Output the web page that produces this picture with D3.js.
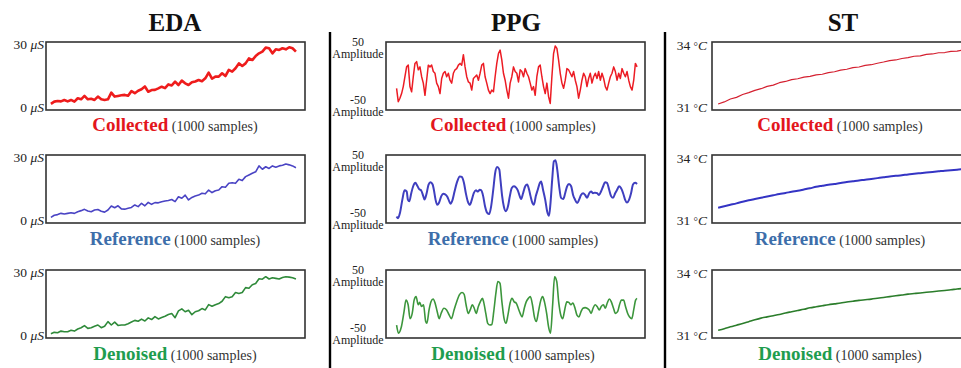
<!DOCTYPE html>
<html>
<head>
<meta charset="utf-8">
<script src="https://cdn.jsdelivr.net/npm/d3@7"></script>
<style>
  body { margin: 0; background: #fff; overflow: hidden; }
  svg { display: block; font-family: "Liberation Serif", "DejaVu Serif", serif; }
</style>
</head>
<body>
<div id="chart"></div>
<script>
// ---- data ----
const titles = ['EDA', 'PPG', 'ST'];
const rowNames = ['Collected', 'Reference', 'Denoised'];
const sampleNote = '(1000 samples)';

const edaTicks = [0, 30];
const ppgTicks = [-50, 50];
const stTicks = [31, 34];

// EDA, evenly spaced over 1000 samples (μS)
const edaCollected = [1.7, 2.8, 3.1, 2.9, 3.6, 2.9, 3.6, 2.8, 4.4, 3.9, 5.5, 3.9, 4.2, 3.6, 5.2, 3.9,
  3.6, 3.9, 7.1, 5.2, 5.5, 5.8, 6.0, 5.6, 7.8, 6.8, 8.0, 8.7, 10.0, 7.5, 8.3, 8.4, 9.1, 9.9, 9.2,
  11.0, 10.5, 12.3, 10.7, 12.8, 11.5, 10.7, 12.0, 12.4, 13.1, 12.5, 13.9, 16.6, 13.7, 14.7, 14.7,
  16.3, 15.0, 17.9, 17.1, 18.7, 21.0, 19.8, 21.0, 23.4, 22.6, 24.5, 25.8, 26.6, 28.5, 28.2, 25.8,
  27.7, 27.4, 28.2, 27.7, 28.7, 28.2, 26.6];
const edaReference = [1.5, 2.5, 2.8, 3.4, 3.1, 3.4, 3.7, 3.4, 4.2, 4.7, 5.3, 4.5, 4.2, 5.0, 5.2, 4.4,
  4.0, 5.0, 6.9, 6.1, 7.0, 5.5, 5.4, 5.8, 6.2, 7.4, 6.6, 8.2, 7.0, 8.6, 7.7, 8.5, 8.4, 8.9, 9.3,
  9.5, 10.0, 9.0, 11.3, 10.6, 12.1, 9.8, 11.0, 11.7, 12.1, 13.0, 12.7, 14.5, 13.3, 14.2, 14.5,
  16.1, 15.8, 17.7, 18.0, 17.7, 19.6, 19.0, 20.9, 21.7, 22.5, 23.2, 26.0, 24.4, 25.6, 24.8, 26.0,
  25.4, 26.0, 26.3, 26.9, 26.5, 26.0, 25.1];
const edaDenoised = [0.8, 1.5, 1.3, 2.1, 1.8, 1.8, 2.5, 2.1, 3.1, 3.7, 4.7, 3.4, 3.7, 4.4, 5.0, 3.7,
  4.4, 6.6, 5.0, 6.4, 4.8, 5.0, 5.0, 5.6, 6.4, 7.2, 6.8, 7.8, 6.9, 8.4, 7.6, 9.0, 7.9, 8.6, 9.2,
  10.0, 10.5, 8.5, 11.7, 12.7, 11.3, 12.0, 9.9, 11.3, 11.8, 12.8, 12.2, 14.7, 13.9, 14.6, 15.2,
  16.3, 18.5, 18.0, 18.5, 20.5, 20.0, 20.5, 22.8, 22.5, 24.2, 24.8, 27.0, 26.8, 28.0, 26.9, 27.5,
  27.2, 26.9, 27.6, 28.0, 27.8, 27.5, 26.9];

// PPG collected, evenly spaced (amplitude)
const ppgCollected = [-23, -46, -40, -32, -20, -3, 14, 17, -20, -29,
  -3, 20, 23, 9, 14, -3, -14, -35, -9, 17,
  14, 17, 6, 3, -14, -20, -32, -6, 3, 6,
  -3, 3, -9, -14, 3, 9, 11, 17, 20, 17,
  35, 14, -3, -12, -14, -26, -6, -3, 0, -9,
  3, 17, 20, -3, -14, -26, -32, -26, -29, -3,
  20, 37, 43, 26, 3, -9, -26, -40, -14, -3,
  14, 6, 3, -12, 9, 6, -3, 11, 3, -3,
  -14, -26, -20, -35, -3, 14, 17, -3, -20, -32,
  -14, -37, -49, -3, 37, 50, 46, 26, 3, -14,
  -23, -9, 11, 9, 3, -3, 6, -9, -20, -40,
  -26, -9, 3, -3, -20, -6, 3, -14, -3, 3,
  -6, 6, -9, 3, -6, -20, -26, -14, -3, 3,
  14, 6, -9, 3, -6, 11, 3, -3, 6, -9,
  -20, -26, -9, 20, 14];
// PPG reference / denoised as [sample, amplitude]
const ppgReference = [[0, -49], [6, -52], [14, -43], [24, -20], [33, -4], [42, -6], [47, -20], [53, -23],
  [61, -9], [69, 3], [78, 9], [86, 4], [94, -2], [102, -4], [111, -14], [116, -20], [125, -9], [133, 6],
  [141, 10], [150, 6], [155, -3], [162, -20], [169, -29], [176, -26], [186, -14], [194, -10], [202, -11],
  [211, -15], [219, -23], [224, -27], [233, -20], [241, -6], [252, 11], [263, 20], [271, 19], [280, 9],
  [288, -9], [296, -23], [305, -29], [313, -20], [321, -9], [330, -4], [338, -6], [346, -3], [352, -4],
  [360, -14], [368, -32], [377, -43], [385, -45], [393, -32], [402, -3], [410, 26], [418, 36], [427, 32],
  [432, 14], [439, -14], [446, -32], [454, -40], [463, -32], [471, -14], [479, 0], [488, 3], [496, 1],
  [504, -4], [512, -14], [518, -19], [526, -9], [535, 3], [543, 6], [551, -3], [557, -14], [565, -26],
  [571, -29], [579, -14], [587, -3], [596, 9], [601, 11], [609, -3], [618, -20], [626, -40], [634, -48],
  [640, -26], [647, 14], [654, 46], [661, 48], [668, 32], [676, 3], [684, -17], [693, -19], [701, -9],
  [709, 3], [717, 7], [726, 3], [734, -12], [742, -20], [751, -26], [759, -20], [767, -12], [776, -9],
  [784, -12], [792, -17], [801, -9], [809, -6], [817, -9], [825, -8], [834, -9], [842, -12], [850, -6],
  [859, 3], [867, 10], [875, 9], [884, -3], [892, -14], [900, -17], [909, -9], [917, -3], [925, 3],
  [933, 0], [942, -9], [950, -20], [958, -25], [967, -20], [975, -9], [983, 6], [992, 9], [1000, 7]];
const ppgDenoised = [[0, -38], [8, -52], [20, -41], [31, -15], [39, 5], [48, -3], [56, -27], [65, -18],
  [73, 5], [81, 11], [90, -3], [96, 1], [104, -6], [112, -3], [121, -32], [126, -35], [135, -12],
  [143, 2], [152, 7], [160, 0], [169, -15], [177, -27], [185, -18], [197, -9], [208, -12], [219, -21],
  [228, -27], [239, -12], [250, 2], [261, 14], [272, 18], [281, 15], [289, -3], [298, -18], [306, -12],
  [315, -3], [323, -9], [331, -18], [340, -6], [348, 2], [357, 8], [362, 2], [371, -18], [379, -35],
  [388, -38], [396, -37], [404, -15], [413, 17], [421, 37], [430, 34], [438, 2], [447, -27], [455, -35],
  [463, -21], [472, 0], [480, 8], [489, 2], [497, 0], [506, -9], [514, -18], [522, -24], [531, -9],
  [539, 2], [548, 8], [556, 11], [565, -3], [573, -24], [581, -32], [590, -15], [598, 2], [607, 11],
  [615, 2], [624, -18], [632, -41], [640, -52], [649, -3], [657, 45], [666, 37], [674, 2], [683, -21],
  [691, -27], [699, -12], [708, 2], [716, 1], [725, -3], [733, 0], [742, -9], [750, -21], [758, -24],
  [767, -15], [775, -9], [784, -8], [792, -9], [801, -12], [809, -18], [817, -9], [826, -3], [834, -6],
  [843, -12], [851, -6], [860, -3], [868, -9], [876, 0], [885, 7], [893, 2], [902, -9], [910, -18],
  [919, -15], [927, -3], [935, 5], [944, 5], [952, -6], [961, -18], [969, -24], [978, -27], [986, -12],
  [994, 5], [1000, 8]];

// ST, every 25 samples (°C)
const stCollected = [31.17, 31.27, 31.41, 31.49, 31.63, 31.72, 31.83, 31.91, 32.02, 32.08, 32.20,
  32.26, 32.35, 32.39, 32.47, 32.51, 32.58, 32.61, 32.69, 32.73, 32.81, 32.85, 32.93, 32.96, 33.04,
  33.07, 33.14, 33.20, 33.27, 33.30, 33.37, 33.41, 33.48, 33.50, 33.57, 33.59, 33.65, 33.66, 33.72,
  33.73, 33.78];
const stReference = [31.62, 31.69, 31.76, 31.83, 31.91, 31.98, 32.04, 32.10, 32.16, 32.22, 32.28,
  32.33, 32.39, 32.44, 32.50, 32.56, 32.63, 32.68, 32.73, 32.77, 32.81, 32.86, 32.90, 32.94, 32.97,
  33.01, 33.05, 33.09, 33.13, 33.16, 33.19, 33.23, 33.26, 33.29, 33.32, 33.35, 33.38, 33.41, 33.43,
  33.46, 33.50];
const stDenoised = [31.25, 31.33, 31.42, 31.50, 31.58, 31.67, 31.76, 31.84, 31.90, 31.96, 32.02,
  32.09, 32.15, 32.21, 32.27, 32.34, 32.39, 32.44, 32.49, 32.53, 32.57, 32.62, 32.66, 32.70, 32.73,
  32.76, 32.80, 32.84, 32.88, 32.92, 32.96, 33.00, 33.03, 33.06, 33.09, 33.12, 33.15, 33.18, 33.21,
  33.25, 33.28];

// ---- layout ----
const width = 961, height = 368;
const rowTops = [42, 155, 270];
const boxH = 68;
const captionY = [131, 245, 360];
const captionColors = ['#e3161d', '#3d6eaa', '#1f9d4f'];

const even = vals => vals.map((v, i) => [i * 1000 / (vals.length - 1), v]);

const panels = [
  {
    title: titles[0], titleX: 175, capX: 175, left: 46, w: 259,
    xDomain: [-20, 1037], yDomain: [0, 30], yPad: [2.5, 65.5], ticks: edaTicks, unit: 'μS',
    series: [even(edaCollected), even(edaReference), even(edaDenoised)],
    colors: ['#ee1c1c', '#4a44c4', '#2f8a3a'], widths: [2.6, 1.6, 1.6],
    curves: [d3.curveLinear, d3.curveLinear, d3.curveLinear]
  },
  {
    title: titles[1], titleX: 516, capX: 513, left: 386, w: 259,
    xDomain: [-44, 1033], yDomain: [-50, 50], yPad: [4, 62], ticks: ppgTicks, unit: null,
    series: [even(ppgCollected), ppgReference, ppgDenoised],
    colors: ['#ec1c24', '#3f3fbf', '#3c963c'], widths: [1.5, 2, 1.6],
    curves: [d3.curveLinear, d3.curveMonotoneX, d3.curveMonotoneX]
  },
  {
    title: titles[2], titleX: 843, capX: 840, left: 712, w: 259,
    xDomain: [-25, 1032], yDomain: [31, 34], yPad: [3.5, 65.5], ticks: stTicks, unit: '°C',
    series: [even(stCollected), even(stReference), even(stDenoised)],
    colors: ['#d42030', '#3434c4', '#2b7d2b'], widths: [1.2, 2, 1.6],
    curves: [d3.curveLinear, d3.curveMonotoneX, d3.curveMonotoneX]
  }
];

const svg = d3.select('#chart').append('svg')
  .attr('width', width)
  .attr('height', height);

// column dividers
[330, 665].forEach(xv => {
  svg.append('line')
    .attr('x1', xv).attr('x2', xv)
    .attr('y1', 32).attr('y2', height)
    .attr('stroke', '#000')
    .attr('stroke-width', 2.4);
});

panels.forEach(p => {
  svg.append('text')
    .attr('x', p.titleX)
    .attr('y', 31)
    .attr('text-anchor', 'middle')
    .attr('font-size', 25)
    .attr('font-weight', 'bold')
    .attr('fill', '#111')
    .text(p.title);

  const x = d3.scaleLinear().domain(p.xDomain).range([p.left, p.left + p.w]);

  p.series.forEach((pts, r) => {
    const top = rowTops[r];
    const y = d3.scaleLinear().domain(p.yDomain).range([top + p.yPad[1], top + p.yPad[0]]);

    svg.append('rect')
      .attr('x', p.left)
      .attr('y', top)
      .attr('width', p.w)
      .attr('height', boxH)
      .attr('fill', '#fff')
      .attr('stroke', '#333')
      .attr('stroke-width', 1.6);

    const line = d3.line()
      .x(d => x(d[0]))
      .y(d => y(d[1]))
      .curve(p.curves[r]);

    svg.append('path')
      .datum(pts)
      .attr('d', line)
      .attr('fill', 'none')
      .attr('stroke', p.colors[r])
      .attr('stroke-width', p.widths[r])
      .attr('stroke-linejoin', 'round');

    // tick labels on the left of each box
    const axis = svg.append('g')
      .attr('transform', 'translate(' + p.left + ',0)')
      .call(d3.axisLeft(y).tickValues(p.ticks).tickSize(0).tickPadding(p.unit === '°C' ? 5 : 2));
    axis.select('.domain').remove();
    axis.attr('font-family', null).attr('font-size', 13.5);
    axis.selectAll('text').attr('fill', '#222').each(function (v) {
      const t = d3.select(this).text(null);
      if (p.unit) {
        t.append('tspan').text(v + ' ');
        if (p.unit === '°C') {
          t.append('tspan').attr('font-size', 11).text('°');
          t.append('tspan').attr('font-style', 'italic').text('C');
        } else {
          t.append('tspan').attr('font-style', 'italic').text(p.unit);
        }
      } else {
        t.attr('text-anchor', 'middle').attr('x', -28).attr('dy', null).attr('font-size', 12);
        t.append('tspan').attr('x', -28).attr('y', -4.5).attr('dy', '0.32em').text(v);
        t.append('tspan').attr('x', -28).attr('y', 8).attr('dy', '0.32em').text('Amplitude');
      }
    });

    // caption under the box
    const cap = svg.append('text')
      .attr('x', p.capX)
      .attr('y', captionY[r])
      .attr('text-anchor', 'middle');
    cap.append('tspan')
      .attr('font-size', 19)
      .attr('font-weight', 'bold')
      .attr('fill', captionColors[r])
      .text(rowNames[r]);
    cap.append('tspan')
      .attr('font-size', 14)
      .attr('fill', '#333')
      .text(' ' + sampleNote);
  });
});
</script>
</body>
</html>
